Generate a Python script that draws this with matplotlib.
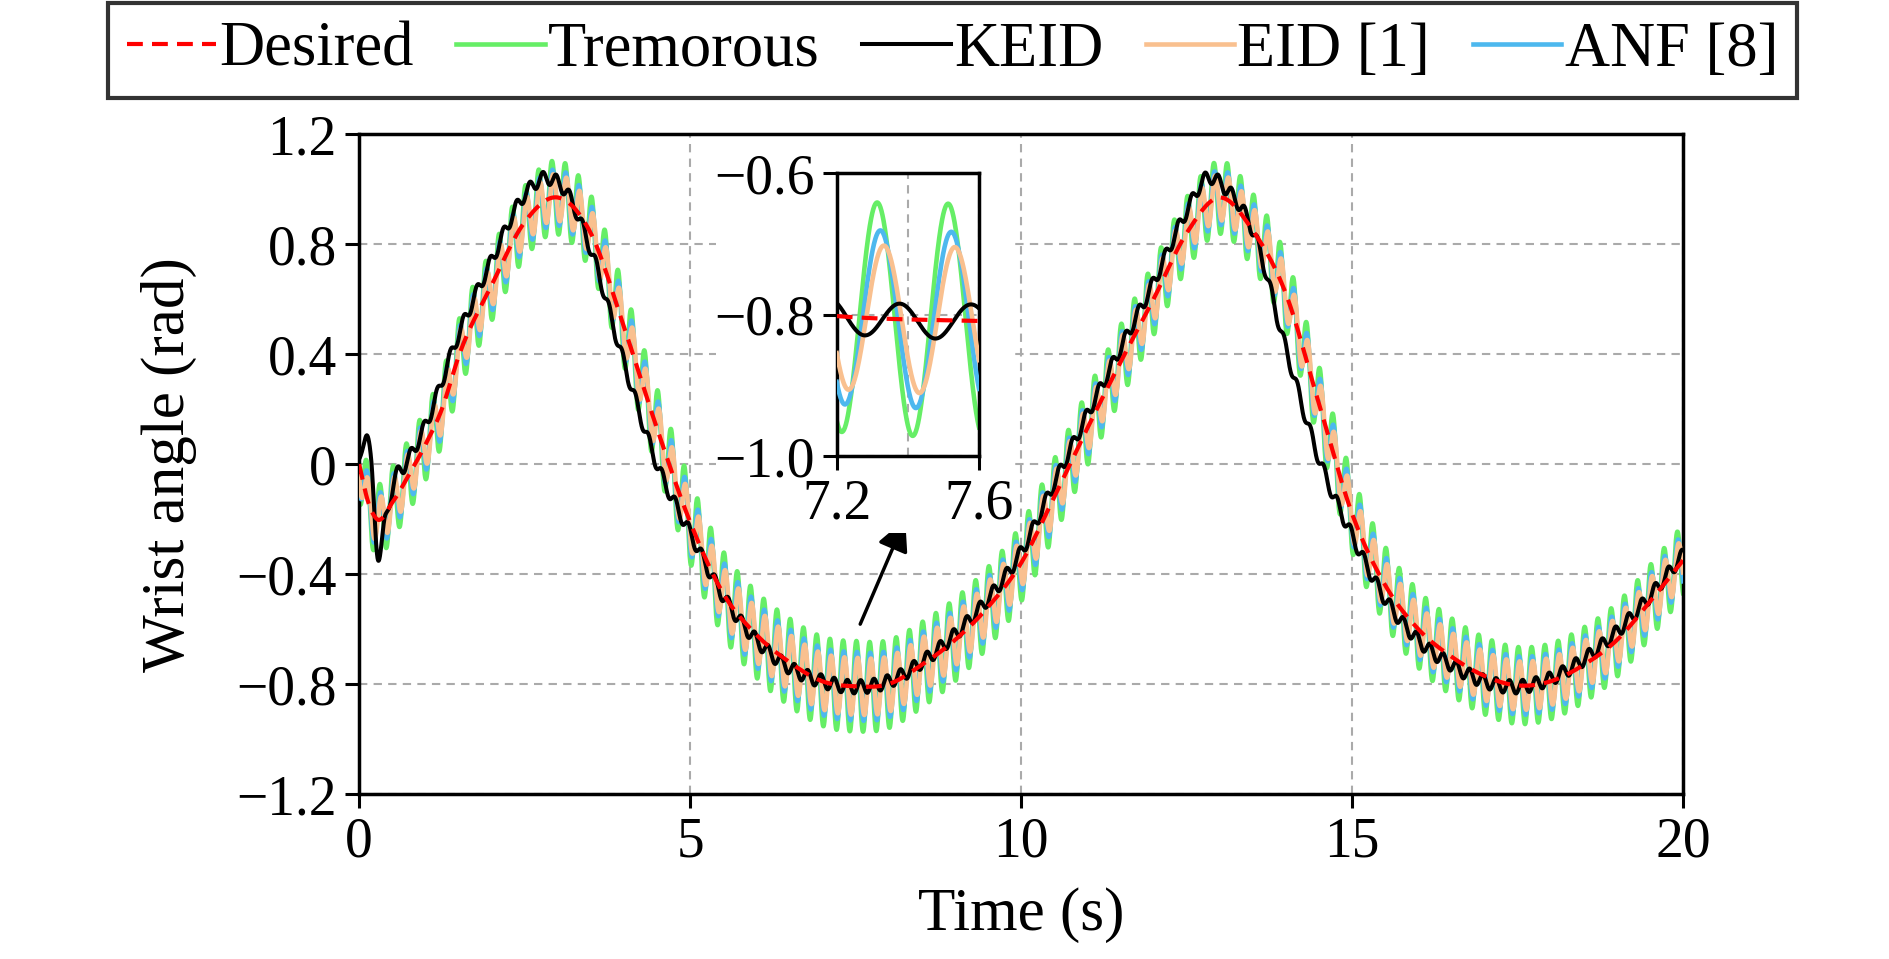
import numpy as np
import matplotlib
matplotlib.use("Agg")
import matplotlib.pyplot as plt
from matplotlib.patches import Rectangle

plt.rcParams['font.family'] = ['Liberation Serif', 'DejaVu Serif']
plt.rcParams['mathtext.fontset'] = 'stix'

# desired (voluntary) wrist motion
desired_t = [0, 0.14, 0.27, 0.5, 0.75, 1.0, 1.25, 1.5, 2.0, 2.5, 3.0, 3.5, 4.0, 4.5,
             5.0, 5.5, 6.0, 6.5, 7.0, 7.5, 8.0, 8.5, 9.0, 9.5, 10.0, 10.5, 11.0,
             11.5, 12.0, 12.5, 13.0, 13.5, 14.0, 14.5, 15.0, 15.5, 16.0, 16.5,
             17.0, 17.5, 18.0, 18.5, 19.0, 19.5, 20.0]
desired_y = [0.0, -0.14, -0.20, -0.14, -0.04, 0.07, 0.20, 0.39, 0.65, 0.88, 0.97,
             0.84, 0.50, 0.13, -0.21, -0.47, -0.62, -0.72, -0.79, -0.808, -0.80,
             -0.73, -0.64, -0.52, -0.36, -0.12, 0.13, 0.37, 0.60, 0.84, 0.97,
             0.85, 0.62, 0.22, -0.18, -0.44, -0.60, -0.70, -0.77, -0.805, -0.79,
             -0.73, -0.64, -0.50, -0.35]

# KEID output (slow part)
keid_t = [0, 0.12, 0.18, 0.28, 0.4, 0.55, 0.7, 1.0, 1.5, 2.0, 2.5, 2.8, 3.1, 3.5,
          4.0, 4.5, 5.0, 5.5, 6.0, 6.5, 7.0, 7.5, 8.0, 8.5, 9.0, 9.5, 10.0, 10.5,
          11.0, 11.5, 12.0, 12.5, 12.8, 13.1, 13.5, 14.0, 14.5, 15.0, 15.5, 16.0,
          16.5, 17.0, 17.5, 18.0, 18.5, 19.0, 19.5, 20.0]
keid_y = [0.0, 0.11, 0.0, -0.32, -0.20, -0.05, 0.0, 0.14, 0.47, 0.74, 0.98, 1.04,
          1.00, 0.78, 0.37, 0.0, -0.25, -0.48, -0.64, -0.74, -0.79, -0.81, -0.79,
          -0.72, -0.62, -0.49, -0.32, -0.07, 0.18, 0.42, 0.66, 0.92, 1.04, 1.0,
          0.85, 0.42, 0.02, -0.26, -0.49, -0.64, -0.73, -0.79, -0.81, -0.78,
          -0.71, -0.61, -0.48, -0.33]

# tremor: 5 Hz, amplitude envelope of the tremorous signal
trem_freq = 5.0
trem_env_t = [0, 2.5, 5, 7.5, 10, 12.5, 15, 17.5, 20]
trem_env_a = [0.13, 0.13, 0.15, 0.165, 0.14, 0.13, 0.14, 0.14, 0.13]
# amplitude ratios (to tremorous) and phase (cycles) for each signal
anf_ratio, eid_ratio, keid_amp = 0.76, 0.63, 0.024
trem_phase = {'Tremorous': 0.315, 'ANF [8]': 0.36, 'EID [1]': 0.41, 'KEID': 0.635}

legend_labels = ['Desired', 'Tremorous', 'KEID', 'EID [1]', 'ANF [8]']
colors = {'Desired': '#FF0000', 'Tremorous': '#66EE66', 'KEID': '#000000',
          'EID [1]': '#F9C08F', 'ANF [8]': '#4DB8EE'}


def smooth(tk, yk, t):
    tk = np.asarray(tk, float)
    yk = np.asarray(yk, float)
    m = np.gradient(yk, tk)
    i = np.clip(np.searchsorted(tk, t, side='right') - 1, 0, len(tk) - 2)
    h = tk[i + 1] - tk[i]
    s = (t - tk[i]) / h
    h00 = 2 * s**3 - 3 * s**2 + 1
    h10 = s**3 - 2 * s**2 + s
    h01 = -2 * s**3 + 3 * s**2
    h11 = s**3 - s**2
    return h00 * yk[i] + h10 * h * m[i] + h01 * yk[i + 1] + h11 * h * m[i + 1]


t = np.linspace(0, 20, 20001)
d = smooth(desired_t, desired_y, t)
env = np.interp(t, trem_env_t, trem_env_a)


def trem(name, amp):
    return amp * np.sin(2 * np.pi * (trem_freq * t - trem_phase[name]))


series = {
    'Desired': d,
    'Tremorous': d + trem('Tremorous', env),
    'ANF [8]': d + trem('ANF [8]', env * anf_ratio),
    'EID [1]': d + trem('EID [1]', env * eid_ratio),
    'KEID': smooth(keid_t, keid_y, t) + trem('KEID', keid_amp),
}

fig = plt.figure(figsize=(18.9, 9.59), dpi=100)
ax = fig.add_axes([0.190, 0.172, 0.7005, 0.688])


def draw(a):
    h = {}
    for name, z in [('Tremorous', 2), ('ANF [8]', 3), ('EID [1]', 4)]:
        h[name], = a.plot(t, series[name], color=colors[name], lw=3.3,
                          zorder=z, label=name)
    h['KEID'], = a.plot(t, series['KEID'], color=colors['KEID'], lw=2.9,
                        zorder=5, label='KEID')
    h['Desired'], = a.plot(t, series['Desired'], color=colors['Desired'],
                           lw=3.0, ls=(0, (3.8, 2.2)), zorder=6, label='Desired')
    return h


handles = draw(ax)
ax.set_xlim(0, 20)
ax.set_ylim(-1.2, 1.2)
ax.set_xticks([0, 5, 10, 15, 20])
ax.set_yticks([-1.2, -0.8, -0.4, 0, 0.4, 0.8, 1.2])
ax.set_yticklabels(['\u22121.2', '\u22120.8', '\u22120.4', '0', '0.4', '0.8', '1.2'])
ax.grid(True, color='#AAAAAA', ls=(0, (4, 3)), lw=1.5)
ax.tick_params(direction='out', length=10, width=2.2, labelsize=40, pad=6)
for sp in ax.spines.values():
    sp.set_linewidth(2.5)
ax.set_xlabel('Time (s)', fontsize=44, labelpad=14)
ax.set_ylabel('Wrist angle (rad)', fontsize=44, labelpad=28)

ax.annotate('', xy=(8.25, -0.2), xytext=(7.57, -0.582),
            arrowprops=dict(arrowstyle='-|>', color='black', lw=2.5,
                            mutation_scale=48, shrinkA=0, shrinkB=0), zorder=8)

# white backing under the inset and its tick labels
fig.patches.append(Rectangle((0.379, 0.444), 0.157, 0.41, transform=fig.transFigure,
                             facecolor='white', edgecolor='none', zorder=1))

ins = fig.add_axes([0.4429, 0.5245, 0.0751, 0.295])
ins.set_zorder(2)
draw(ins)
ins.set_xlim(7.2, 7.6)
ins.set_ylim(-1.0, -0.6)
ins.set_xticks([7.2, 7.6])
ins.set_xticks([7.4], minor=True)
ins.set_yticks([-1.0, -0.8, -0.6])
ins.set_yticklabels(['\u22121.0', '\u22120.8', '\u22120.6'])
ins.grid(True, which='both', color='#AAAAAA', ls=(0, (4, 3)), lw=1.5)
ins.tick_params(which='major', direction='out', length=10, width=2.2,
                labelsize=40, pad=6)
ins.tick_params(which='minor', length=0)
for sp in ins.spines.values():
    sp.set_linewidth(2.5)

leg = fig.legend([handles[n] for n in legend_labels], legend_labels,
                 loc='upper center', bbox_to_anchor=(0.504, 0.997), ncol=5,
                 fontsize=45, frameon=True, fancybox=False, edgecolor='black',
                 handlelength=1.42, handletextpad=0.05, columnspacing=0.68,
                 borderpad=0.3, borderaxespad=0)
leg.get_frame().set_linewidth(3.0)

fig.savefig('out.png', dpi=100)
